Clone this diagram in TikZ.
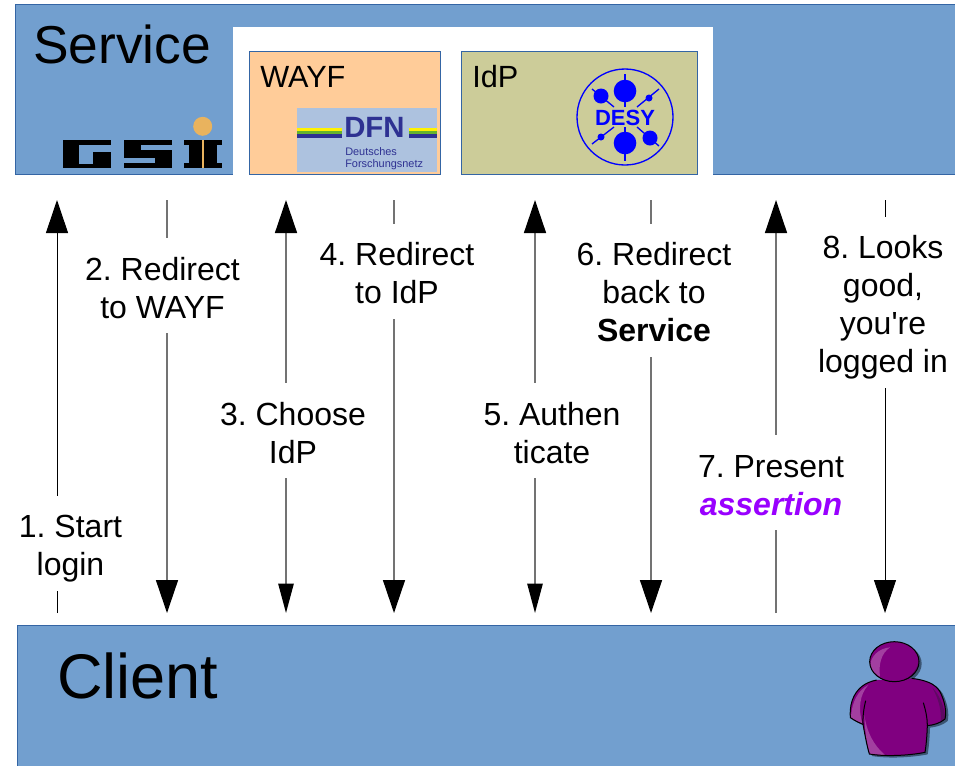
\documentclass[tikz,border=0pt]{standalone}
\usepackage{fontspec}
\setmainfont{Liberation Sans}
\newfontfamily\straightfont{Liberation Sans}
\usetikzlibrary{arrows.meta}
\definecolor{panelblue}{HTML}{729FCF}
\definecolor{panelline}{HTML}{3465A4}
\definecolor{wayforange}{HTML}{FFCC99}
\definecolor{idpolive}{HTML}{CCCC99}
\definecolor{dfnback}{HTML}{ADC2DF}
\definecolor{dfnblue}{HTML}{2E3192}
\definecolor{dfngreen}{HTML}{66B32E}
\definecolor{gsiorange}{HTML}{E9B35E}
\definecolor{personpurple}{HTML}{800080}
\definecolor{personlight}{HTML}{A23FA0}
\definecolor{persondark}{HTML}{5E0A62}
\definecolor{personshadow}{HTML}{3B5573}
\definecolor{assertviolet}{HTML}{9900FF}
\frenchspacing
\newcommand{\steptop}{\rule{0pt}{31.5pt}}

\begin{document}
\begin{tikzpicture}[x=0.75pt,y=-0.75pt,
    panel/.style={draw=panelline, line width=0.75pt},
    steplabel/.style={fill=white, align=center, inner xsep=2pt, inner ysep=0pt, font=\fontsize{24}{28.5}\selectfont,
        execute at end node={\rule[-11.25pt]{0pt}{11.25pt}}},
    bigtip/.tip={Triangle[length=24.75pt,width=16.5pt,color=black]},
    slimtip/.tip={Triangle[length=22pt,width=11.5pt,color=black]},
    thinflow/.style={draw=black, line width=0.75pt},
    greyflow/.style={draw=black!55, line width=1.1pt}]
    \useasboundingbox (0,0) rectangle (955,765);

    \draw[panel, fill=panelblue] (15,4.5) rectangle (965,174.5);
    \fill[white] (233,27) rectangle (713,175.5);
    \draw[panel, fill=wayforange] (249.5,51) rectangle (440,174.5);
    \draw[panel, fill=idpolive] (461,51) rectangle (697,174.5);
    \draw[panel, fill=panelblue] (17.5,625) rectangle (965,775);

    \node[anchor=base west, inner sep=0pt, font=\fontsize{40}{40}\selectfont] (service) at (33,63) {Service};
    \node[anchor=base west, inner sep=0pt, font=\fontsize{23}{24}\selectfont] (wayf) at (260,87) {WAYF};
    \node[anchor=base west, inner sep=0pt, font=\fontsize{23}{24}\selectfont] (idp) at (472,87) {IdP};
    \node[anchor=base west, inner sep=0pt, font=\fontsize{47.3}{48}\selectfont] (client) at (57,698) {Client};

    \fill[black] (63,140) rectangle (110.7,167.7);
    \fill[panelblue] (79,144.5) rectangle (92.7,164.3);
    \fill[panelblue] (92.7,144.5) rectangle (110.7,151.7);
    \fill[black] (124.3,140) rectangle (172.3,167.7);
    \fill[panelblue] (141,145) rectangle (172.3,149.5);
    \fill[panelblue] (124.3,158) rectangle (155,162.7);
    \fill[black] (184,140) rectangle (222,167.7);
    \fill[panelblue] (184,145) rectangle (189,162.5);
    \fill[panelblue] (217,145) rectangle (222,162.5);
    \fill[gsiorange] (201.7,140) rectangle (204.3,167.7);
    \fill[gsiorange] (202.7,126.3) circle (9.5);

    \fill[dfnback] (297,108) rectangle (437,172);
    \fill[yellow] (297,127.7) rectangle (341.5,130.7);
    \fill[yellow] (409,127.7) rectangle (437,130.7);
    \fill[dfngreen] (297,130.7) rectangle (341.5,134);
    \fill[dfngreen] (409,130.7) rectangle (437,134);
    \fill[dfnblue] (297,134) rectangle (341.5,137.7);
    \fill[dfnblue] (409,134) rectangle (437,137.7);
    \node[anchor=base west, inner sep=0pt, text=dfnblue, font=\fontsize{22}{24}\bfseries\selectfont] (dfn) at (344,137) {DFN};
    \node[anchor=base west, inner sep=0pt, text=dfnblue, align=left, font=\fontsize{8.2}{8.8}\selectfont] (dfnname) at (345,167) {Deutsches\\Forschungsnetz};

    \draw[blue, line width=1pt] (625,117) circle (48);
    \draw[blue, line width=1pt] (625,74) -- (625,107);
    \draw[blue, line width=1pt] (625,127) -- (625,161);
    \draw[blue, line width=1pt] (592,89) -- (614,107);
    \draw[blue, line width=1pt] (659,89) -- (637,107);
    \draw[blue, line width=1pt] (592,144) -- (614,127);
    \draw[blue, line width=1pt] (659,146) -- (637,127);
    \fill[blue] (625,91) circle (11.3);
    \fill[blue] (625,143) circle (11.3);
    \fill[blue] (601,96) circle (7.5);
    \fill[blue] (650,138) circle (7.5);
    \fill[blue] (649,98) circle (3.5);
    \fill[blue] (601,137) circle (3.5);
    \node[inner sep=0pt, text=blue, font=\fontsize{16.5}{18}\bfseries\selectfont] (desy) at (625,118) {DESY};

    \coordinate (srv1) at (57,200);
    \coordinate (srv2) at (167,200);
    \coordinate (srv3) at (286,200);
    \coordinate (srv4) at (394,200);
    \coordinate (srv5) at (535,200);
    \coordinate (srv6) at (651,200);
    \coordinate (srv7) at (776,200);
    \coordinate (srv8) at (885,200);
    \coordinate (cli1) at (57,613);
    \coordinate (cli2) at (167,613);
    \coordinate (cli3) at (286,613);
    \coordinate (cli4) at (394,613);
    \coordinate (cli5) at (535,613);
    \coordinate (cli6) at (651,613);
    \coordinate (cli7) at (776,613);
    \coordinate (cli8) at (885,613);

    \draw[thinflow, -{bigtip}] (cli1) -- (srv1);
    \draw[greyflow, -{bigtip}] (srv2) -- (cli2);
    \draw[greyflow, {slimtip}-{bigtip}] (cli3) -- (srv3);
    \draw[greyflow, -{bigtip}] (srv4) -- (cli4);
    \draw[greyflow, {slimtip}-{bigtip}] (cli5) -- (srv5);
    \draw[greyflow, -{bigtip}] (srv6) -- (cli6);
    \draw[greyflow, -{bigtip}] (cli7) -- (srv7);
    \draw[thinflow, -{bigtip}] (srv8) -- (cli8);

    \node[steplabel] (start) at (70.5,543) {\steptop 1. Start\\login};
    \node[steplabel] (towayf) at (162.5,285.5) {\steptop 2. Redirect\\to WAYF};
    \node[steplabel] (choose) at (293,430.5) {\steptop 3. Choose\\IdP};
    \node[steplabel] (toidp) at (397,271) {\steptop 4. Redirect\\to IdP};
    \node[steplabel] (authen) at (552,430.5) {\steptop 5. Authen\\ticate};
    \node[steplabel] (back) at (654,290) {\steptop 6. Redirect\\back to\\\textbf{Service}};
    \node[steplabel] (present) at (771,482.5) {\steptop 7. Present\\\textcolor{assertviolet}{\textbf{\textit{assertion}}}};
    \node[steplabel] (loggedin) at (883,302) {\steptop 8. Looks\\good,\\you{\straightfont'}re\\logged in};

    \begin{scope}[shift={(845,635)},x=0.25pt,y=-0.25pt]
        \fill[personshadow] (103,141) .. controls (68,148) and (43,166) .. (30,201) .. controls (23,221) and (23,241) .. (24,254) .. controls (38,264) and (53,270) .. (62,274) .. controls (66,296) and (73,336) .. (81,363) .. controls (128,371) and (198,368) .. (248,358) .. controls (253,326) and (254,301) .. (255,278) .. controls (273,276) and (293,271) .. (308,258) .. controls (313,236) and (308,206) .. (293,176) .. controls (278,151) and (248,141) .. (208,136) -- cycle;
        \fill[personshadow] (156,86) ellipse [x radius=74, y radius=60];
        \fill[personpurple] (95,135) .. controls (60,142) and (35,160) .. (22,195) .. controls (15,215) and (15,235) .. (16,248) .. controls (30,258) and (45,264) .. (54,268) .. controls (58,290) and (65,330) .. (73,357) .. controls (120,365) and (190,362) .. (240,352) .. controls (245,320) and (246,295) .. (247,272) .. controls (265,270) and (285,265) .. (300,252) .. controls (305,230) and (300,200) .. (285,170) .. controls (270,145) and (240,135) .. (200,130) -- cycle;
        \fill[personlight] (70,150) .. controls (40,165) and (20,200) .. (18,247) .. controls (30,255) and (42,262) .. (52,266) .. controls (40,225) and (42,180) .. (70,150) -- cycle;
        \fill[personlight] (58,240) .. controls (60,290) and (65,330) .. (75,356) .. controls (90,358) and (105,360) .. (120,360) .. controls (85,330) and (65,290) .. (58,240) -- cycle;
        \fill[persondark] (262,158) .. controls (280,175) and (300,215) .. (300,250) .. controls (297,253) and (292,257) .. (287,260) .. controls (290,225) and (280,190) .. (262,158) -- cycle;
        \draw[black, line width=0.75pt] (95,135) .. controls (60,142) and (35,160) .. (22,195) .. controls (15,215) and (15,235) .. (16,248) .. controls (30,258) and (45,264) .. (54,268) .. controls (58,290) and (65,330) .. (73,357) .. controls (120,365) and (190,362) .. (240,352) .. controls (245,320) and (246,295) .. (247,272) .. controls (265,270) and (285,265) .. (300,252) .. controls (305,230) and (300,200) .. (285,170) .. controls (270,145) and (240,135) .. (200,130);
        \draw[black, line width=0.75pt] (62,197) .. controls (55,225) and (53,250) .. (54,268);
        \draw[black, line width=0.75pt] (235,203) .. controls (243,230) and (247,250) .. (247,272);
        \fill[personpurple] (148,80) ellipse [x radius=74, y radius=60];
        \fill[personlight] (135,37) .. controls (100,40) and (78,65) .. (76,88) .. controls (78,105) and (90,118) .. (105,125) .. controls (100,90) and (108,55) .. (135,37) -- cycle;
        \fill[persondark] (220,70) .. controls (222,95) and (205,120) .. (175,136) .. controls (200,132) and (222,105) .. (220,70) -- cycle;
        \draw[black, line width=0.75pt] (148,80) ellipse [x radius=74, y radius=60];
    \end{scope}
\end{tikzpicture}
\end{document}
